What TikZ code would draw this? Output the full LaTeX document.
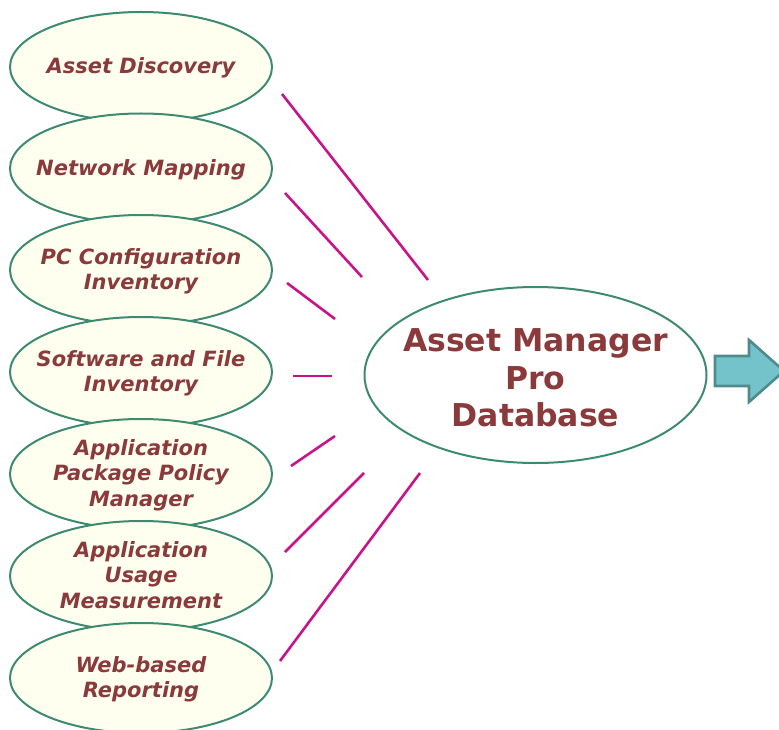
\documentclass[tikz,border=0pt]{standalone}
\usepackage{fontspec}
\setmainfont{DejaVu Sans}
\usetikzlibrary{shapes.geometric}
\definecolor{txtred}{HTML}{8B3A3C}
\definecolor{edgegreen}{HTML}{3E8A70}
\definecolor{ivory}{HTML}{FFFFF0}
\definecolor{linkmag}{HTML}{C8148A}
\definecolor{arrowfill}{HTML}{74C3CA}
\definecolor{arrowedge}{HTML}{4E8B8C}
\newcommand\fixedtext[2][-7pt]{\raisebox{#1}[0pt][0pt]{\makebox[0pt]{\begin{tabular}{@{}c@{}}#2\end{tabular}}}}
\tikzset{
  module/.style={ellipse, draw=edgegreen, line width=2pt, fill=ivory,
    minimum width=262pt, minimum height=110pt, inner sep=0pt,
    text=txtred, font=\fontsize{21}{25.5}\selectfont\bfseries\itshape},
  dbnode/.style={ellipse, draw=edgegreen, line width=2pt, fill=white,
    minimum width=342pt, minimum height=176pt, inner sep=0pt,
    text=txtred, font=\fontsize{31.5}{37.5}\selectfont\bfseries},
  link/.style={draw=linkmag, line width=2.6pt},
}
\begin{document}
\begin{tikzpicture}[x=1pt,y=-1pt]
\useasboundingbox (0,0) rectangle (779,730);
\clip (0,0) rectangle (779,730);
\node[module] (m1) at (141,67) {\fixedtext{Asset Discovery}};
\node[module] (m2) at (141,168.5) {\fixedtext{Network Mapping}};
\node[module] (m3) at (141,270) {\fixedtext{PC Configuration\\Inventory}};
\node[module] (m4) at (141,372) {\fixedtext{Software and File\\Inventory}};
\node[module] (m5) at (141,474) {\fixedtext{Application\\Package Policy\\Manager}};
\node[module] (m6) at (141,576) {\fixedtext{Application\\Usage\\Measurement}};
\node[module] (m7) at (141,678) {\fixedtext{Web-based\\Reporting}};
\node[dbnode] (db) at (535.5,375) {\fixedtext[-13pt]{Asset Manager\\Pro\\Database}};
\coordinate (s1) at (282,94);  \coordinate (e1) at (428,280);
\coordinate (s2) at (285,193); \coordinate (e2) at (362,277);
\coordinate (s3) at (287,283); \coordinate (e3) at (335,319);
\coordinate (s4) at (293,376); \coordinate (e4) at (332,376);
\coordinate (s5) at (291,466); \coordinate (e5) at (335,436);
\coordinate (s6) at (285,552); \coordinate (e6) at (364,473);
\coordinate (s7) at (280,661); \coordinate (e7) at (420,473);
\foreach \i in {1,...,7} \draw[link] (s\i) -- (e\i);
\draw[fill=arrowfill, draw=arrowedge, line width=2.6pt, line join=miter]
  (715,356) -- (749,356) -- (749,340) -- (784,371) -- (749,402) -- (749,386) -- (715,386) -- cycle;
\end{tikzpicture}
\end{document}
